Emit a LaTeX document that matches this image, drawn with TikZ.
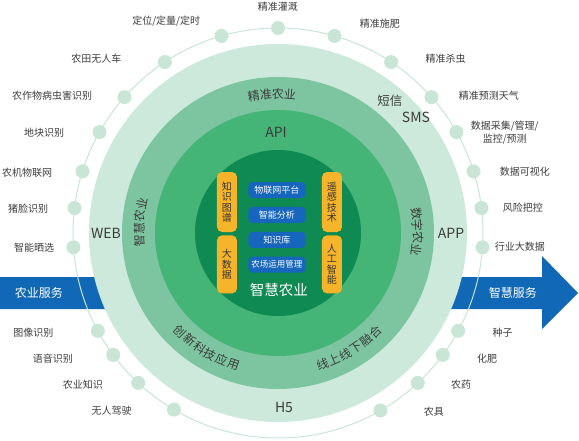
\documentclass[tikz,border=0pt]{standalone}
\usepackage{fontspec}
\setmainfont{Noto Sans CJK SC}
\usepackage{tikz}
\usetikzlibrary{positioning}

\definecolor{palegreen}{RGB}{205,233,219}
\definecolor{midgreen}{RGB}{125,196,160}
\definecolor{ringgreen}{RGB}{68,180,119}
\definecolor{darkgreen}{RGB}{14,138,82}
\definecolor{dotgreen}{RGB}{200,229,214}
\definecolor{bandblue}{RGB}{17,104,182}
\definecolor{pillblue}{RGB}{22,102,190}
\definecolor{pillyellow}{RGB}{246,180,42}
\definecolor{txtgray}{RGB}{60,60,60}

\begin{document}
\begin{tikzpicture}[x=1pt,y=1pt,
		dot/.style={circle,fill=dotgreen,minimum size=14pt,inner sep=0pt},
		lbl/.style={font=\fontsize{10}{13}\selectfont,text=txtgray,inner sep=0pt},
		ringtxt/.style={font=\fontsize{12}{14}\selectfont,text=txtgray,inner sep=0pt},
		latintxt/.style={font=\fontsize{14}{16}\selectfont,text=txtgray,inner sep=0pt},
		bandtxt/.style={font=\fontsize{12}{14}\selectfont,text=white,inner sep=0pt},
		bluepill/.style={fill=pillblue,rounded corners=4pt,minimum width=57pt,minimum height=16pt,inner sep=0pt,text=white,font=\fontsize{9}{10}\selectfont},
		yellowpill/.style={fill=pillyellow,rounded corners=5pt,minimum width=20pt,inner sep=0pt,text=black!80,align=center,font=\fontsize{10}{10.5}\selectfont}]
	\useasboundingbox (-278,-207) rectangle (301,233);
	\coordinate (c) at (0,0);

	\fill[bandblue] (-278,-44) -- (264,-44) -- (264,-23) -- (300,-60) -- (264,-96) -- (264,-76) -- (-278,-76) -- cycle;
	\node[bandtxt] (agri) at (-239,-60) {农业服务};
	\node[bandtxt] (smart) at (235,-60) {智慧服务};

	\draw[dotgreen,line width=1pt] (c) circle (205);
	\foreach \a/\n in {90/top,106/l1,123.5/l2,138.5/l3,150.5/l4,162.5/l5,173/l6,184/l7,
		208.5/l8,216.5/l9,227/l10,239.5/l11,
		74/r1,56.5/r2,41.5/r3,29.5/r4,17.5/r5,7/r6,-4/r7,
		-28.5/r8,-36.5/r9,-47/r10,-60/r11}
		\node[dot] (\n) at (\a:205) {};

	\node[lbl,above=9pt of top] (t-top) {精准灌溉};
	\node[lbl,left=14pt of l1,yshift=15pt] (t-l1) {定位/定量/定时};
	\node[lbl,left=36pt of l2,yshift=3pt] (t-l2) {农田无人车};
	\node[lbl,left=25pt of l3,yshift=1pt] (t-l3) {农作物病虫害识别};
	\node[lbl,left=28pt of l4,yshift=-1pt] (t-l4) {地块识别};
	\node[lbl,left=23pt of l5,yshift=-1pt] (t-l5) {农机物联网};
	\node[lbl,left=19pt of l6,yshift=-1pt] (t-l6) {猪脸识别};
	\node[lbl,left=12pt of l7] (t-l7) {智能晒选};
	\node[lbl,left=37pt of l8,yshift=-2pt] (t-l8) {图像识别};
	\node[lbl,left=33pt of l9,yshift=-4pt] (t-l9) {语音识别};
	\node[lbl,left=28pt of l10,yshift=-2pt] (t-l10) {农业知识};
	\node[lbl,left=35pt of l11,yshift=-1pt] (t-l11) {无人驾驶};
	\node[lbl,right=18pt of r1,yshift=12pt] (t-r1) {精准施肥};
	\node[lbl,right=27pt of r2,yshift=3pt] (t-r2) {精准杀虫};
	\node[lbl,right=20pt of r3,yshift=1pt] (t-r3) {精准预测天气};
	\node[lbl,right=7pt of r4,yshift=-1pt,align=center] (t-r4) {数据采集/管理/\\监控/预测};
	\node[lbl,right=19pt of r5] (t-r5) {数据可视化};
	\node[lbl,right=14pt of r6] (t-r6) {风险把控};
	\node[lbl,right=5pt of r7,yshift=1pt] (t-r7) {行业大数据};
	\node[lbl,right=27pt of r8,yshift=-2pt] (t-r8) {种子};
	\node[lbl,right=27pt of r9,yshift=-4pt] (t-r9) {化肥};
	\node[lbl,right=26pt of r10,yshift=-2pt] (t-r10) {农药};
	\node[lbl,right=36pt of r11,yshift=-1pt] (t-r11) {农具};

	\fill[palegreen] (c) circle (189);
	\fill[midgreen] (c) circle (156);
	\fill[ringgreen] (c) circle (123);
	\fill[darkgreen] (c) circle (83);

	\node[latintxt] (web) at (-172,0) {WEB};
	\node[latintxt] (app) at (173,0) {APP};
	\node[latintxt] (h5) at (6,-174) {H5};
	\node[ringtxt,font=\fontsize{12.5}{14}\selectfont] (sms-cn) at (112,132) {短信};
	\node[latintxt] (sms) at (138,116) {SMS};
	\node[latintxt] (api) at (-2,101) {API};

	\foreach \ch [count=\i] in {精,准,农,业}
		\node[ringtxt,rotate=2.5-(\i-2.5)*5] (top-\i) at ({92.5-(\i-2.5)*5}:139) {\ch};
	\foreach \ch [count=\i] in {智,慧,农,业}
		\node[ringtxt,rotate=85.5-(\i-2.5)*5] (lft-\i) at ({175.5-(\i-2.5)*5}:139) {\ch};
	\foreach \ch [count=\i] in {数,字,农,业}
		\node[ringtxt,rotate=-89.5-(\i-2.5)*5] (rgt-\i) at ({0.5-(\i-2.5)*5}:140) {\ch};
	\foreach \ch [count=\i] in {创,新,科,技,应,用}
		\node[ringtxt,rotate=-31.7+(\i-3.5)*5.2] (bl-\i) at ({238.3+(\i-3.5)*5.2}:139) {\ch};
	\foreach \ch [count=\i] in {线,上,线,下,融,合}
		\node[ringtxt,rotate=31.7+(\i-3.5)*5.2] (br-\i) at ({-58.3+(\i-3.5)*5.2}:139) {\ch};

	\node[bluepill] (p1) at (-1,43) {物联网平台};
	\node[bluepill,below=8.5pt of p1] (p2) {智能分析};
	\node[bluepill,below=8.5pt of p2] (p3) {知识库};
	\node[bluepill,below=8.5pt of p3,font=\fontsize{8.5}{10}\selectfont] (p4) {农场运用管理};
	\node[yellowpill,minimum height=60pt] (y1) at (-51,31) {知\\识\\图\\谱};
	\node[yellowpill,minimum height=58pt,below=3pt of y1] (y2) {大\\数\\据};
	\node[yellowpill,minimum height=60pt] (y3) at (54,31) {遥\\感\\技\\术};
	\node[yellowpill,minimum height=58pt,below=3pt of y3] (y4) {人\\工\\智\\能};
	\node[font=\fontsize{14.5}{16}\selectfont,text=white,inner sep=0pt] (title) at (1,-57) {智慧农业};
\end{tikzpicture}
\end{document}
